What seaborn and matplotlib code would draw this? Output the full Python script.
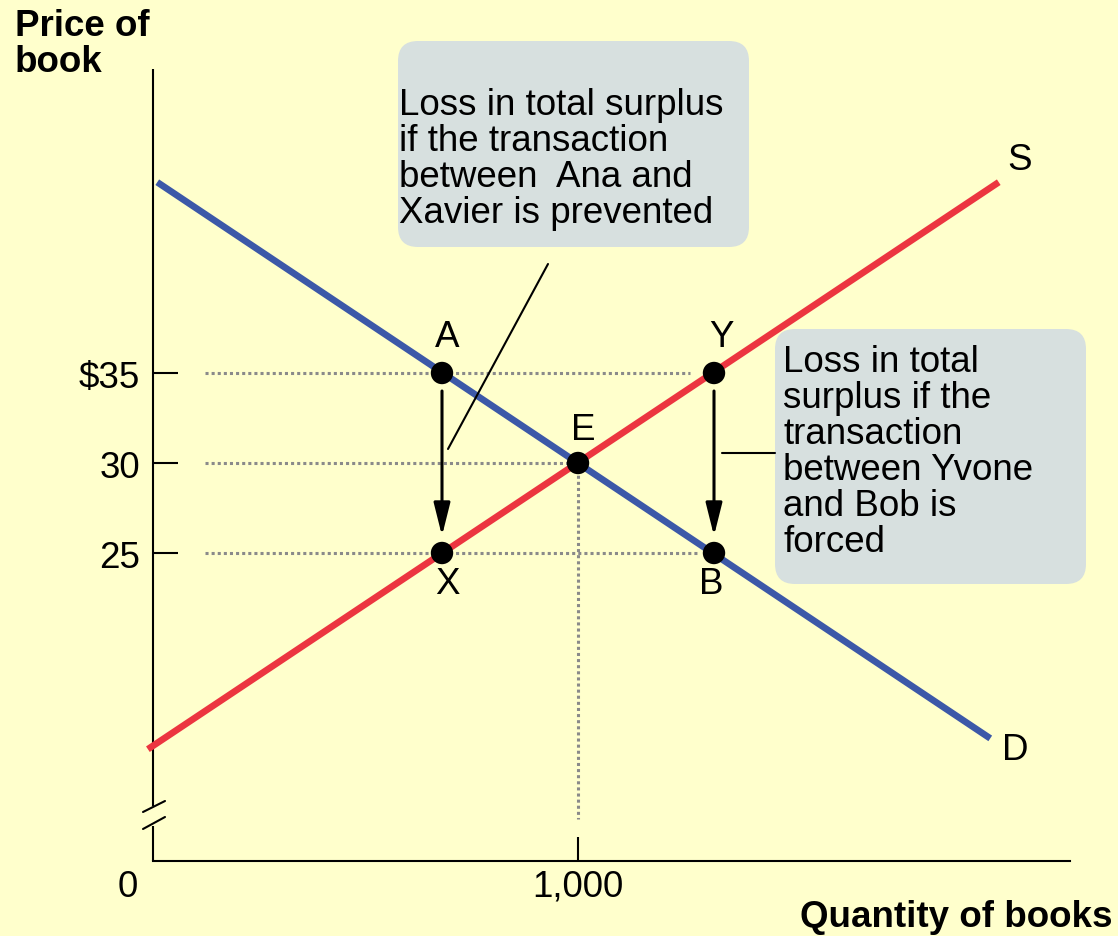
import matplotlib
matplotlib.use('Agg')
import matplotlib.pyplot as plt
import seaborn as sns
import pandas as pd
from matplotlib.patches import FancyBboxPatch, FancyArrowPatch
from matplotlib.transforms import Affine2D, blended_transform_factory

# ---------------- data ----------------
demand_q = [10, 1970]
demand_p = [45.6, 14.7]
supply_q = [-12, 1990]
supply_p = [14.1, 45.6]
point_names = ['A', 'Y', 'E', 'X', 'B']
point_q = [680, 1320, 1000, 680, 1320]
point_p = [35, 35, 30, 25, 25]
price_ticks = [25, 30, 35]
price_labels = ['25', '30', r'\$35']
qty_ticks = [1000]
qty_labels = ['1,000']
box1_text = "Loss in total surplus\nif the transaction\nbetween  Ana and\nXavier is prevented"
box2_text = "Loss in total\nsurplus if the\ntransaction\nbetween Yvone\nand Bob is\nforced"

W, H = 1118, 937
BG = '#FFFFCC'
RED = '#EC3540'
BLUE = '#3C58A8'
GRID = '#8A8A8A'
BOX = '#D7E0DF'
FS = 26.5
LS = 1.04

sns.set_theme(style='white')
plt.rcParams['font.family'] = ['Liberation Sans', 'DejaVu Sans']
plt.rcParams['text.color'] = 'black'
plt.rcParams['xtick.color'] = 'black'
plt.rcParams['ytick.color'] = 'black'
plt.rcParams['xtick.labelcolor'] = 'black'
plt.rcParams['ytick.labelcolor'] = 'black'

fig = plt.figure(figsize=(W / 100, H / 100), dpi=100, facecolor=BG)
ax = fig.add_axes([153 / W, (H - 862) / H, (1070 - 153) / W, (862 - 70) / H])
ax.set_facecolor('none')
ax.set_xlim(0, 917 / 0.425)
ax.set_ylim(30 - 398 / 18, 30 + 394 / 18)

# pixel transform (image coordinates, y downwards)
px = Affine2D().scale(1 / W, -1 / H).translate(0, 1) + fig.transFigure

# ---------------- curves ----------------
sns.lineplot(x=demand_q, y=demand_p, color=BLUE, lw=4.8, ax=ax, clip_on=False,
             solid_capstyle='butt', zorder=3)
sns.lineplot(x=supply_q, y=supply_p, color=RED, lw=4.8, ax=ax, clip_on=False,
             solid_capstyle='butt', zorder=3)

# ---------------- spines / ticks ----------------
for s in ['top', 'right', 'left']:
    ax.spines[s].set_visible(False)
ax.spines['bottom'].set_color('black')
ax.spines['bottom'].set_linewidth(1.5)

ylo, yhi = ax.get_ylim()
yax = blended_transform_factory(ax.transAxes, ax.transData)
# left axis with break
ax.plot([0, 0], [30 - 343 / 18, yhi], color='black', lw=1.5, transform=yax, clip_on=False, solid_capstyle='butt')
ax.plot([0, 0], [ylo, 30 - 363 / 18], color='black', lw=1.5, transform=yax, clip_on=False, solid_capstyle='butt')
ax.plot([143, 165], [813, 802], color='black', lw=1.5, transform=px, clip_on=False)
ax.plot([143, 165], [830, 818], color='black', lw=1.5, transform=px, clip_on=False)

ax.set_yticks(price_ticks)
ax.set_yticklabels(price_labels)
ax.set_xticks(qty_ticks)
ax.set_xticklabels(qty_labels)
ax.set_xlabel('')
ax.set_ylabel('')
ax.tick_params(axis='y', direction='in', length=18, width=1.5, pad=9.4, labelsize=FS,
               colors='black', left=True)
ax.tick_params(axis='x', direction='in', length=17.5, width=1.5, pad=5.4, labelsize=FS,
               colors='black', bottom=True)
ax.grid(False)

# ---------------- guide lines ----------------
dot = dict(color=GRID, lw=2.2, linestyle=(0, (1, 1)), zorder=1)
ax.plot([122, 1264], [35, 35], **dot)
ax.plot([122, 1000], [30, 30], **dot)
ax.plot([122, 1287], [25, 25], **dot)
ax.plot([1000, 1000], [30, 10.2], **dot)

# ---------------- arrows ----------------
for qx in [point_q[0], point_q[1]]:
    arr = FancyArrowPatch((qx, 34.0), (qx, 25.95),
                          arrowstyle='-|>,head_length=1.0,head_width=0.25',
                          mutation_scale=20, color='black', lw=2.2, zorder=4,
                          shrinkA=0, shrinkB=0)
    ax.add_patch(arr)

# ---------------- points ----------------
pts = pd.DataFrame({'q': point_q, 'p': point_p, 'name': point_names})
sns.scatterplot(data=pts, x='q', y='p', color='black', s=260, edgecolor='none',
                ax=ax, zorder=6, clip_on=False, legend=False)
ax.set_xlabel('')
ax.set_ylabel('')
offsets = {'A': (5, 27), 'Y': (7, 27), 'E': (5, 24), 'X': (5, -40), 'B': (-3, -40)}
for _, r in pts.iterrows():
    dx, dy = offsets[r['name']]
    ax.annotate(r['name'], (r['q'], r['p']), xytext=(dx, dy), textcoords='offset pixels',
                ha='center', va='baseline', fontsize=FS, color='black')

ax.annotate('S', (supply_q[-1], supply_p[-1]), xytext=(21, 13), textcoords='offset pixels',
            ha='center', va='baseline', fontsize=FS, annotation_clip=False)
ax.annotate('D', (demand_q[-1], demand_p[-1]), xytext=(25, -21), textcoords='offset pixels',
            ha='center', va='baseline', fontsize=FS, annotation_clip=False)

# ---------------- callout boxes ----------------
b1 = FancyBboxPatch((398, 42), 351, 206, boxstyle='round,pad=0,rounding_size=20',
                    transform=px, facecolor=BOX, edgecolor='none', zorder=2, clip_on=False)
b2 = FancyBboxPatch((775, 330), 311, 255, boxstyle='round,pad=0,rounding_size=20',
                    transform=px, facecolor=BOX, edgecolor='none', zorder=2, clip_on=False)
ax.add_patch(b1)
ax.add_patch(b2)
# va='baseline' on multi-line text anchors the last line's baseline
ax.text(399, 223, box1_text, transform=px, ha='left', va='baseline', fontsize=FS,
        linespacing=LS, zorder=7, clip_on=False)
ax.text(783, 552, box2_text, transform=px, ha='left', va='baseline', fontsize=FS,
        linespacing=LS, zorder=7, clip_on=False)
ax.plot([548, 448], [265, 450], color='black', lw=1.5, transform=px, clip_on=False, zorder=4)
ax.plot([722, 775], [454, 454], color='black', lw=1.5, transform=px, clip_on=False, zorder=4)

# ---------------- axis titles ----------------
ax.text(15, 72, 'Price of\nbook', transform=px, ha='left', va='baseline', fontsize=FS,
        fontweight='bold', linespacing=LS, clip_on=False)
ax.text(1112, 927, 'Quantity of books', transform=px, ha='right', va='baseline', fontsize=FS,
        fontweight='bold', clip_on=False)
ax.text(128, 897, '0', transform=px, ha='center', va='baseline', fontsize=FS, clip_on=False)

fig.savefig('out.png', dpi=100, facecolor=BG)
